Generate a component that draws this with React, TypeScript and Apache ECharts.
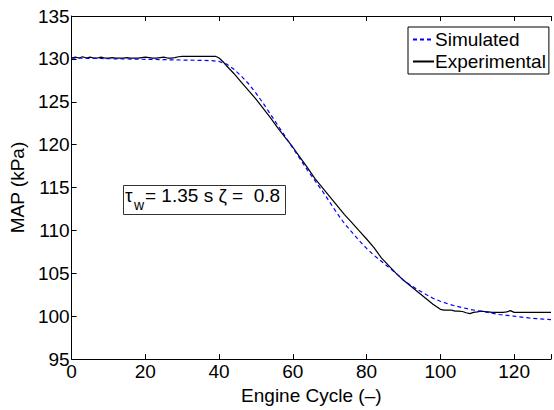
import React, { useEffect, useRef } from "react";
import * as echarts from "echarts";

// Experimental (measured) MAP, kPa
const expCycles = [
  0, 1, 2, 3, 4, 5, 6, 7, 8, 9, 10, 11, 12, 13, 14, 15, 16, 17, 18, 19, 20, 21, 22, 23, 24, 25, 26, 27, 28, 29, 30,
  31, 32, 33, 34, 35, 36, 37, 38, 39, 40, 41, 42, 44, 46, 48, 50, 52, 54, 56, 58, 60, 62, 64, 66, 68, 70, 72, 74,
  76, 78, 80, 82, 84, 86, 88, 90, 92, 94, 96, 98, 100, 101, 102, 103, 104, 105, 106, 107, 108, 109, 110, 111, 112,
  113, 114, 115, 116, 117, 118, 119, 120, 122, 124, 126, 128, 130,
];
const expMap = [
  130.1, 130.2, 130.1, 130.25, 130.1, 130.2, 130.1, 130.1, 130.2, 130.1, 130.1, 130.15, 130.1, 130.1, 130.1, 130.15,
  130.1, 130.1, 130.1, 130.15, 130.2, 130.15, 130.1, 130.1, 130.15, 130.2, 130.1, 130.1, 130.15, 130.25, 130.3,
  130.3, 130.3, 130.3, 130.3, 130.3, 130.3, 130.3, 130.3, 130.3, 130.1, 129.7, 129.2, 128.3, 127.3, 126.3, 125.3,
  124.2, 123.1, 121.9, 120.8, 119.7, 118.5, 117.3, 116.05, 115.0, 113.95, 112.9, 111.85, 110.9, 109.95, 109.0,
  108.0, 106.8, 105.9, 105.0, 104.2, 103.5, 102.8, 102.1, 101.4, 100.8, 100.7, 100.7, 100.7, 100.6, 100.6, 100.55,
  100.4, 100.3, 100.45, 100.5, 100.6, 100.55, 100.5, 100.45, 100.45, 100.45, 100.45, 100.5, 100.65, 100.45, 100.45,
  100.45, 100.45, 100.45, 100.45,
];

// Simulated MAP, kPa
const simCycles = [
  0, 4, 8, 12, 16, 20, 24, 28, 32, 36, 38, 40, 42, 44, 46, 48, 50, 52, 54, 56, 58, 60, 62, 64, 66, 68, 70, 72, 74,
  76, 78, 80, 82, 84, 86, 88, 90, 92, 94, 96, 98, 100, 102, 104, 106, 108, 110, 112, 114, 116, 118, 120, 122, 124,
  126, 128, 130,
];
const simMap = [
  130.1, 130.07, 130.05, 130.0, 129.98, 129.95, 129.92, 129.88, 129.85, 129.82, 129.8, 129.7, 129.4, 128.8, 128.0,
  127.1, 126.0, 124.8, 123.5, 122.2, 120.9, 119.6, 118.3, 117.0, 115.8, 114.6, 113.3, 112.0, 110.8, 109.8, 108.8,
  107.9, 107.1, 106.4, 105.7, 105.0, 104.2, 103.6, 103.05, 102.55, 102.1, 101.75, 101.45, 101.2, 101.0, 100.8,
  100.65, 100.5, 100.35, 100.2, 100.1, 100.0, 99.9, 99.8, 99.72, 99.65, 99.6,
];

const xTicks = [0, 20, 40, 60, 80, 100, 120];

const FONT = "'Liberation Sans', Arial, Helvetica, sans-serif";
const FS = 19;

export default function App() {
  const ref = useRef<HTMLDivElement>(null);

  useEffect(() => {
    if (!ref.current) return;
    const chart = echarts.init(ref.current, null, { renderer: "svg" });
    const simData = simCycles.map((c, i) => [c, simMap[i]]);
    const expData = expCycles.map((c, i) => [c, expMap[i]]);
    const axisLine = { show: true, lineStyle: { color: "#000", width: 1 } };
    const tickStyle = { show: true, inside: true, length: 5, lineStyle: { color: "#000", width: 1 } };
    chart.setOption({
      animation: false,
      backgroundColor: "#fff",
      textStyle: { fontFamily: FONT },
      grid: { left: 69, top: 16, width: 491, height: 350, containLabel: false },
      legend: {
        orient: "vertical",
        left: 408,
        top: 27,
        padding: [3, 3, 3, 4],
        itemGap: 3,
        itemWidth: 21,
        itemHeight: 19,
        borderColor: "#000",
        borderWidth: 1,
        backgroundColor: "#fff",
        itemStyle: { opacity: 0 },
        textStyle: { fontFamily: FONT, fontSize: FS, color: "#000", padding: [0, 0, 0, -4] },
        data: ["Simulated", "Experimental"],
      },
      xAxis: [
        {
          type: "value",
          min: 0,
          max: 130,
          interval: 20,
          position: "bottom",
          name: "Engine Cycle (\u2013)",
          nameLocation: "middle",
          nameGap: 21,
          nameTextStyle: { fontFamily: FONT, fontSize: FS, color: "#000" },
          axisLine,
          axisTick: tickStyle,
          axisLabel: {
            fontFamily: FONT,
            fontSize: FS,
            color: "#000",
            margin: 3,
            formatter: (v: number) => (xTicks.indexOf(v) >= 0 ? String(v) : ""),
          },
          splitLine: { show: false },
        },
        {
          type: "value",
          min: 0,
          max: 130,
          interval: 20,
          position: "top",
          axisLine,
          axisTick: tickStyle,
          axisLabel: { show: false },
          splitLine: { show: false },
        },
      ],
      yAxis: {
        type: "value",
        min: 95,
        max: 135,
        interval: 5,
        name: "MAP (kPa)",
        nameLocation: "middle",
        nameGap: 38,
        nameTextStyle: { fontFamily: FONT, fontSize: FS, color: "#000" },
        axisLine,
        axisTick: tickStyle,
        axisLabel: { fontFamily: FONT, fontSize: FS, color: "#000", margin: 2 },
        splitLine: { show: false },
      },
      series: [
        {
          name: "Simulated",
          type: "line",
          data: simData,
          showSymbol: false,
          symbol: "none",
          lineStyle: { color: "#0000ff", width: 1.2, type: [4, 3] },
          itemStyle: { color: "#0000ff" },
          z: 3,
        },
        {
          name: "Experimental",
          type: "line",
          data: expData,
          showSymbol: false,
          symbol: "none",
          lineStyle: { color: "#000", width: 1.2 },
          itemStyle: { color: "#000" },
          z: 2,
        },
      ],
      graphic: [
        {
          type: "rect",
          left: 123,
          top: 185,
          shape: { width: 162, height: 29 },
          style: { fill: "#fff", stroke: "#333", lineWidth: 1 },
          z: 10,
        },
        {
          type: "text",
          left: 125,
          top: 186,
          z: 11,
          style: { text: "\u03c4", fontFamily: FONT, fontSize: FS, fill: "#000" },
        },
        {
          type: "text",
          left: 134,
          top: 198,
          z: 11,
          style: { text: "w", fontFamily: FONT, fontSize: 14, fill: "#000" },
        },
        {
          type: "text",
          left: 145,
          top: 186,
          z: 11,
          style: { text: "= 1.35 s \u03b6 =  0.8", fontFamily: FONT, fontSize: FS, fill: "#000" },
        },
      ],
    });
    return () => chart.dispose();
  }, []);

  return <div ref={ref} style={{ width: 554, height: 410, position: "absolute", left: 0, top: 0 }} />;
}
